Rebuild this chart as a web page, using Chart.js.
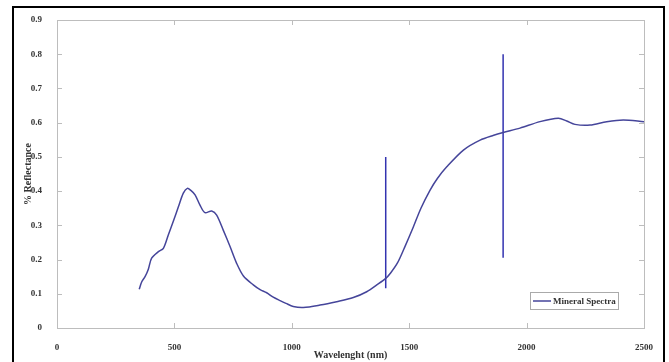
<!DOCTYPE html>
<html>
<head>
<meta charset="utf-8">
<script src="https://cdn.jsdelivr.net/npm/chart.js@4.4.1/dist/chart.umd.min.js"></script>
<style>
  body { margin: 0; background: #fff; }
  #frame { position: absolute; left: 12px; top: 6px; width: 649px; height: 400px; border: 2px solid #000; }
  #wrap { position: absolute; left: 0; top: 0; width: 669px; height: 362px; }
</style>
</head>
<body>
<div id="frame"></div>
<div id="wrap"><canvas id="spectra" width="669" height="362"></canvas></div>
<script>
// Mineral reflectance spectrum
const wavelength = [350, 361, 375, 389, 403, 432, 453, 474, 495, 517, 538, 555, 570, 588, 609, 630, 659, 680, 708, 737, 765, 794, 836, 865, 893, 921, 950, 975, 1006, 1049, 1120, 1191, 1262, 1319, 1362, 1400, 1420, 1450, 1480, 1518, 1550, 1589, 1620, 1660, 1731, 1802, 1860, 1900, 1972, 2057, 2135, 2171, 2206, 2270, 2341, 2412, 2500];
const reflectance = [0.113, 0.135, 0.150, 0.172, 0.204, 0.223, 0.233, 0.272, 0.311, 0.354, 0.394, 0.408, 0.402, 0.389, 0.359, 0.337, 0.342, 0.330, 0.286, 0.238, 0.189, 0.152, 0.126, 0.112, 0.103, 0.090, 0.080, 0.072, 0.063, 0.060, 0.067, 0.077, 0.089, 0.106, 0.126, 0.145, 0.160, 0.190, 0.235, 0.296, 0.350, 0.403, 0.437, 0.471, 0.520, 0.549, 0.563, 0.571, 0.584, 0.603, 0.613, 0.605, 0.595, 0.593, 0.603, 0.608, 0.603];

// water band spikes
const spikeX = [1400, 1900];
const spikeTop = [0.50, 0.80];
const spikeBottom = [0.116, 0.205];

const xTicks = [0, 500, 1000, 1500, 2000, 2500];
const yTicks = [0, 0.1, 0.2, 0.3, 0.4, 0.5, 0.6, 0.7, 0.8, 0.9];

const lineColor = "#45459a";
const serif = "'Liberation Serif', 'DejaVu Serif', serif";

const spikeSets = spikeX.map((x, i) => ({
    label: "spike",
    data: [{ x: x, y: spikeTop[i] }, { x: x, y: spikeBottom[i] }],
    borderColor: "#3333b0",
    borderWidth: 1.5,
    pointRadius: 0,
    showLine: true
}));

// MATLAB-like box with inward ticks plus legend inside the axes
const boxPlugin = {
    id: "box",
    afterDraw(chart) {
        const ctx = chart.ctx;
        const a = chart.chartArea;
        const sx = chart.scales.x, sy = chart.scales.y;
        ctx.save();
        ctx.strokeStyle = "#bdbdbd";
        ctx.lineWidth = 1;
        ctx.strokeRect(a.left + 0.5, a.top + 0.5, a.right - a.left, a.bottom - a.top);
        ctx.beginPath();
        xTicks.forEach(v => {
            const px = Math.round(sx.getPixelForValue(v)) + 0.5;
            ctx.moveTo(px, a.bottom); ctx.lineTo(px, a.bottom - 5);
            ctx.moveTo(px, a.top); ctx.lineTo(px, a.top + 5);
        });
        yTicks.forEach(v => {
            const py = Math.round(sy.getPixelForValue(v)) + 0.5;
            ctx.moveTo(a.left, py); ctx.lineTo(a.left + 5, py);
            ctx.moveTo(a.right, py); ctx.lineTo(a.right - 5, py);
        });
        ctx.stroke();

        // legend
        const w = 88, h = 17;
        const lx = a.right - 26 - w, ly = a.bottom - 19 - h;
        ctx.fillStyle = "#fff";
        ctx.fillRect(lx, ly, w, h);
        ctx.strokeStyle = "#555";
        ctx.setLineDash([1, 1]);
        ctx.strokeRect(lx + 0.5, ly + 0.5, w, h);
        ctx.setLineDash([]);
        ctx.strokeStyle = lineColor;
        ctx.lineWidth = 1.5;
        ctx.beginPath();
        ctx.moveTo(lx + 3, ly + h / 2 + 0.5);
        ctx.lineTo(lx + 21, ly + h / 2 + 0.5);
        ctx.stroke();
        ctx.fillStyle = "#333";
        ctx.font = "bold 9px " + serif;
        ctx.textBaseline = "middle";
        ctx.fillText(chart.data.datasets[0].label, lx + 23, ly + h / 2 + 1);
        ctx.restore();
    }
};

new Chart(document.getElementById("spectra"), {
    type: "scatter",
    data: {
        datasets: [{
            label: "Mineral Spectra",
            data: wavelength.map((x, i) => ({ x: x, y: reflectance[i] })),
            borderColor: lineColor,
            borderWidth: 1.5,
            pointRadius: 0,
            showLine: true,
            tension: 0.3
        }, ...spikeSets]
    },
    options: {
        responsive: false,
        animation: false,
        layout: { padding: { top: 20, right: 25, left: 0, bottom: 0 } },
        plugins: {
            legend: { display: false },
            tooltip: { enabled: false }
        },
        scales: {
            x: {
                type: "linear",
                min: 0,
                max: 2500,
                afterFit: s => { s.height = 34; },
                afterBuildTicks: s => { s.ticks = xTicks.map(v => ({ value: v })); },
                grid: { display: false },
                border: { color: "#bdbdbd" },
                ticks: { padding: 6, color: "#333", font: { family: serif, size: 9, weight: "bold" }, callback: v => String(v) },
                title: { display: true, text: "Wavelenght (nm)", color: "#333", padding: { top: 0, bottom: 1 }, font: { family: serif, size: 10, weight: "bold" } }
            },
            y: {
                min: 0,
                max: 0.9,
                afterFit: s => { s.width = 57; },
                afterBuildTicks: s => { s.ticks = yTicks.map(v => ({ value: v })); },
                grid: { display: false },
                border: { color: "#bdbdbd" },
                ticks: { padding: 7, color: "#333", font: { family: serif, size: 9, weight: "bold" }, callback: v => String(v) },
                title: { display: true, text: "% Reflectance", color: "#333", padding: { top: 22, bottom: 0 }, font: { family: serif, size: 10, weight: "bold" } }
            }
        }
    },
    plugins: [boxPlugin]
});
</script>
</body>
</html>
